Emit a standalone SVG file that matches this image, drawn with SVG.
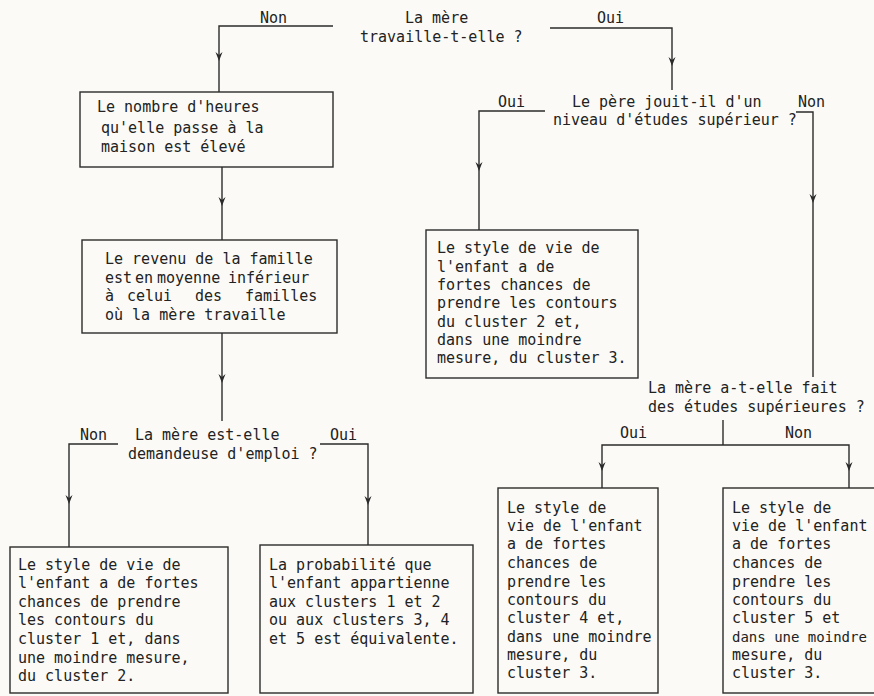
<svg xmlns="http://www.w3.org/2000/svg" xmlns:xlink="http://www.w3.org/1999/xlink" width="874" height="696" viewBox="0 0 874 696">
<style>
.bg{fill:#fbfaf6}
.box{fill:none;stroke:#2b2b2b;stroke-width:1.4}
.ln{fill:none;stroke:#2b2b2b;stroke-width:1.4}
text{font-family:"DejaVu Sans Mono","Liberation Mono",monospace;font-size:15px;fill:#222}
.tight{font-size:14px}
.ah{fill:#2b2b2b}
</style>
<defs>
<path id="ah" class="ah" d="M-3.5,-9 L0,0 L3.5,-9 L0,-6 Z"/>
</defs>
<rect class="bg" x="0" y="0" width="874" height="696"/>

<g id="connectors">
<path class="ln" d="M333,26 H219 V92"/>
<path class="ln" d="M550,28 H672 V90"/>
<path class="ln" d="M222,167 V240"/>
<path class="ln" d="M222,333 V421"/>
<path class="ln" d="M118,444 H69 V547"/>
<path class="ln" d="M320,444 H368 V545"/>
<path class="ln" d="M545,111 H479 V230"/>
<path class="ln" d="M796,112 H813 V377"/>
<path class="ln" d="M723,420 V445"/>
<path class="ln" d="M602,488 V445 H849 V488"/>
<use xlink:href="#ah" x="219" y="61"/>
<use xlink:href="#ah" x="672" y="66"/>
<use xlink:href="#ah" x="222" y="206"/>
<use xlink:href="#ah" x="222" y="383"/>
<use xlink:href="#ah" x="69" y="504"/>
<use xlink:href="#ah" x="368" y="505"/>
<use xlink:href="#ah" x="479" y="171"/>
<use xlink:href="#ah" x="813" y="203"/>
<use xlink:href="#ah" x="602" y="471"/>
<use xlink:href="#ah" x="849" y="471"/>
</g>

<g id="q1">
<text x="260" y="23">Non</text>
<text x="405" y="23">La mère</text>
<text x="360" y="42">travaille-t-elle ?</text>
<text x="597" y="23">Oui</text>
</g>

<g id="box1">
<rect class="box" x="80" y="92" width="253" height="75"/>
<text x="97" y="112">Le nombre d'heures</text>
<text x="101" y="133">qu'elle passe à la</text>
<text x="101" y="152">maison est élevé</text>
</g>

<g id="box2">
<rect class="box" x="82" y="240" width="255" height="93"/>
<text x="105" y="264">Le revenu de la famille</text>
<text y="283"><tspan x="105">est</tspan><tspan x="135">en</tspan><tspan x="157">moyenne</tspan><tspan x="228">inférieur</tspan></text>
<text y="301"><tspan x="105">à</tspan><tspan x="127">celui</tspan><tspan x="195">des</tspan><tspan x="245">familles</tspan></text>
<text x="105" y="320">où la mère travaille</text>
</g>

<g id="q2">
<text x="498" y="107">Oui</text>
<text x="572" y="107">Le père jouit-il d'un</text>
<text x="798" y="107">Non</text>
<text x="553" y="125">niveau d'études supérieur ?</text>
</g>

<g id="box3">
<rect class="box" x="426" y="230" width="212" height="148"/>
<text x="437" y="253">Le style de vie de</text>
<text x="437" y="272">l'enfant a de</text>
<text x="437" y="290">fortes chances de</text>
<text x="437" y="308">prendre les contours</text>
<text x="437" y="327">du cluster 2 et,</text>
<text x="437" y="345">dans une moindre</text>
<text x="437" y="363">mesure, du cluster 3.</text>
</g>

<g id="q3">
<text x="80" y="440">Non</text>
<text x="135" y="440">La mère est-elle</text>
<text x="330" y="440">Oui</text>
<text x="128" y="459">demandeuse d'emploi ?</text>
</g>

<g id="box4">
<rect class="box" x="10" y="547" width="218" height="146"/>
<text x="18" y="570">Le style de vie de</text>
<text x="18" y="588">l'enfant a de fortes</text>
<text x="18" y="607">chances de prendre</text>
<text x="18" y="625">les contours du</text>
<text x="18" y="644">cluster 1 et, dans</text>
<text x="18" y="663">une moindre mesure,</text>
<text x="18" y="681">du cluster 2.</text>
</g>

<g id="box5">
<rect class="box" x="260" y="545" width="213" height="148"/>
<text x="269" y="570">La probabilité que</text>
<text x="269" y="588">l'enfant appartienne</text>
<text x="269" y="607">aux clusters 1 et 2</text>
<text x="269" y="625">ou aux clusters 3, 4</text>
<text x="269" y="644">et 5 est équivalente.</text>
</g>

<g id="q4">
<text x="648" y="393">La mère a-t-elle fait</text>
<text x="648" y="412">des études supérieures ?</text>
<text x="620" y="438">Oui</text>
<text x="785" y="438">Non</text>
</g>

<g id="box6">
<rect class="box" x="498" y="488" width="160" height="205"/>
<text x="507" y="513">Le style de</text>
<text x="507" y="531">vie de l'enfant</text>
<text x="507" y="549">a de fortes</text>
<text x="507" y="568">chances de</text>
<text x="507" y="587">prendre les</text>
<text x="507" y="605">contours du</text>
<text x="507" y="623">cluster 4 et,</text>
<text x="507" y="642">dans une moindre</text>
<text x="507" y="660">mesure, du</text>
<text x="507" y="678">cluster 3.</text>
</g>

<g id="box7">
<rect class="box" x="723" y="488" width="160" height="205"/>
<text x="732" y="513">Le style de</text>
<text x="732" y="531">vie de l'enfant</text>
<text x="732" y="549">a de fortes</text>
<text x="732" y="568">chances  de</text>
<text x="732" y="587">prendre les</text>
<text x="732" y="605">contours du</text>
<text x="732" y="623">cluster 5 et</text>
<text class="tight" x="732" y="642">dans une moindre</text>
<text x="732" y="660">mesure, du</text>
<text x="732" y="678">cluster 3.</text>
</g>
</svg>
